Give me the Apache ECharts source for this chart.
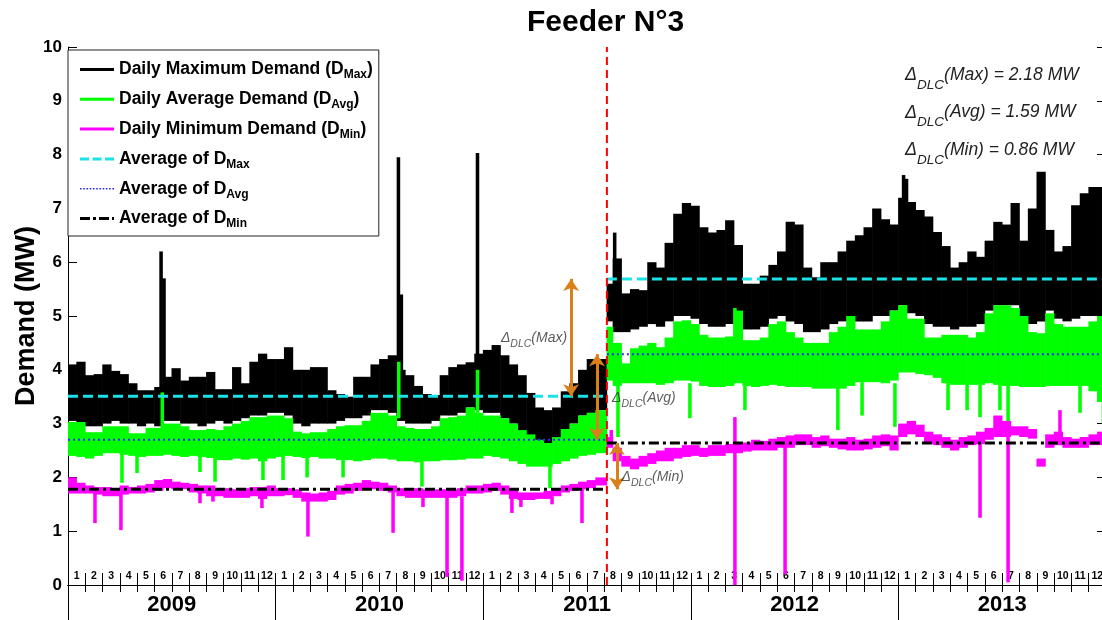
<!DOCTYPE html>
<html><head><meta charset="utf-8">
<script src="https://cdn.jsdelivr.net/npm/echarts@6/dist/echarts.min.js"></script>
<style>html,body{margin:0;padding:0;background:#fff}#c{width:1102px;height:620px}</style>
</head><body><div id="c"></div>
<script>
// ---------------- DATA ----------------
const years = ['2009', '2010', '2011', '2012', '2013'];
const monthNames = ['1', '2', '3', '4', '5', '6', '7', '8', '9', '10', '11', '12'];
const DLC = 31.15; // month index of the DLC start (early Aug 2011)

// half-month blocks, 24 per year (values in MW)
const dMaxHigh = [
  4.1, 4.15, 3.9, 3.92, 4.1, 3.98, 3.92, 3.75, 3.62, 3.62, 3.68, 3.87, 4.03, 3.8, 3.87, 3.87, 3.96, 3.64, 3.64, 4.05, 3.75, 4.15, 4.3, 4.2,
  4.2, 4.42, 4.0, 4.0, 4.05, 4.05, 3.62, 3.55, 3.5, 3.87, 3.87, 4.1, 4.2, 4.27, 4.0, 3.9, 3.7, 3.55, 3.53, 3.9, 4.05, 4.1, 4.14, 4.3,
  4.37, 4.46, 4.27, 4.1, 3.9, 3.57, 3.3, 3.25, 3.3, 3.6, 3.75, 4.0, 4.2, 4.2, 5.6, 6.07, 5.42, 5.5, 5.48, 6.0, 5.9, 6.36, 6.9, 7.1,
  7.05, 6.65, 6.55, 6.6, 6.78, 6.32, 5.6, 5.6, 5.75, 5.95, 6.2, 6.75, 6.7, 5.9, 5.72, 6.0, 6.0, 6.2, 6.4, 6.5, 6.65, 7.0, 6.8, 6.7,
  7.2, 7.12, 6.97, 6.85, 6.56, 6.3, 5.9, 6.0, 6.2, 6.1, 6.4, 6.75, 6.7, 7.1, 6.4, 7.0, 7.68, 6.6, 6.2, 6.3, 7.06, 7.28, 7.4, 7.4
];
const dMaxLow = [
  3.05, 3.0, 2.95, 2.95, 3.0, 3.05, 3.0, 3.0, 2.95, 3.0, 2.95, 3.05, 3.05, 3.0, 3.0, 2.95, 3.0, 3.05, 3.0, 3.05, 3.1, 3.15, 3.15, 3.2,
  3.2, 3.15, 3.0, 2.95, 3.0, 3.0, 3.0, 3.05, 3.1, 3.1, 3.15, 3.25, 3.25, 3.2, 3.05, 3.0, 3.0, 3.0, 3.05, 3.15, 3.15, 3.2, 3.3, 3.25,
  3.2, 3.2, 3.1, 3.0, 2.85, 2.75, 2.6, 2.56, 2.7, 2.9, 3.0, 3.15, 3.2, 3.25, 4.9, 4.7, 4.7, 4.75, 4.8, 4.85, 4.8, 4.9, 5.0, 5.0,
  4.95, 4.85, 4.8, 4.8, 4.85, 4.9, 4.75, 4.75, 4.8, 4.95, 5.0, 4.9, 4.85, 4.7, 4.7, 4.75, 4.85, 4.9, 5.0, 4.9, 4.9, 5.0, 5.0, 5.1,
  5.2, 5.05, 5.0, 4.85, 4.8, 4.8, 4.75, 4.8, 4.8, 4.85, 5.1, 5.2, 5.2, 5.2, 5.0, 4.85, 4.9, 5.1, 4.95, 4.9, 4.95, 5.0, 5.0, 5.0
];
const dAvgHigh = [
  3.03, 3.03, 2.84, 2.84, 2.95, 2.95, 2.95, 2.82, 2.82, 2.92, 2.92, 3.0, 3.0, 2.95, 2.88, 2.88, 2.9, 2.88, 2.95, 3.0, 3.05, 3.12, 3.12, 3.15,
  3.15, 3.1, 2.85, 2.82, 2.84, 2.84, 2.9, 2.95, 2.97, 2.97, 3.05, 3.2, 3.2, 3.15, 2.95, 2.92, 2.9, 2.9, 2.95, 3.1, 3.12, 3.15, 3.3, 3.2,
  3.15, 3.15, 3.1, 3.0, 2.88, 2.8, 2.7, 2.64, 2.75, 2.9, 3.0, 3.15, 3.2, 3.25, 4.8, 4.5, 4.12, 4.4, 4.45, 4.5, 4.42, 4.6, 4.9, 4.92,
  4.85, 4.65, 4.6, 4.6, 4.62, 5.1, 4.55, 4.55, 4.6, 4.85, 4.9, 4.7, 4.6, 4.5, 4.5, 4.5, 4.7, 4.8, 5.0, 4.75, 4.75, 4.75, 4.9, 5.1,
  5.2, 4.95, 4.95, 4.6, 4.6, 4.65, 4.65, 4.65, 4.6, 4.7, 5.05, 5.2, 5.2, 5.15, 5.0, 4.7, 4.68, 5.05, 4.85, 4.8, 4.8, 4.8, 4.9, 5.0
];
const dAvgLow = [
  2.4, 2.38, 2.35, 2.4, 2.45, 2.45, 2.42, 2.4, 2.38, 2.4, 2.4, 2.42, 2.4, 2.38, 2.4, 2.38, 2.36, 2.32, 2.32, 2.35, 2.33, 2.35, 2.3, 2.35,
  2.38, 2.4, 2.38, 2.36, 2.38, 2.35, 2.35, 2.32, 2.32, 2.3, 2.32, 2.35, 2.35, 2.33, 2.3, 2.3, 2.28, 2.3, 2.3, 2.32, 2.32, 2.33, 2.35, 2.35,
  2.4, 2.38, 2.35, 2.3, 2.25, 2.2, 2.2, 2.2, 2.25, 2.3, 2.35, 2.4, 2.42, 2.45, 3.8, 3.7, 3.75, 3.75, 3.75, 3.75, 3.72, 3.75, 3.8, 3.8,
  3.78, 3.7, 3.68, 3.68, 3.7, 3.75, 3.7, 3.68, 3.7, 3.72, 3.7, 3.68, 3.68, 3.68, 3.65, 3.65, 3.65, 3.65, 3.7, 3.77, 3.77, 3.77, 3.75, 3.8,
  3.95, 3.95, 3.92, 3.9, 3.85, 3.75, 3.72, 3.72, 3.72, 3.72, 3.75, 3.72, 3.7, 3.7, 3.68, 3.68, 3.68, 3.7, 3.7, 3.7, 3.7, 3.7, 3.6, 3.4
];
const dMinHigh = [
  2.0, 1.9, 1.85, 1.82, 1.82, 1.8, 1.85, 1.82, 1.85, 1.88, 1.95, 1.97, 1.92, 1.9, 1.88, 1.85, 1.85, 1.8, 1.8, 1.78, 1.8, 1.82, 1.82, 1.85,
  1.8, 1.8, 1.78, 1.72, 1.7, 1.72, 1.75, 1.85, 1.88, 1.9, 1.95, 1.92, 1.9, 1.85, 1.8, 1.78, 1.8, 1.78, 1.78, 1.78, 1.78, 1.8, 1.85, 1.85,
  1.88, 1.9, 1.85, 1.78, 1.72, 1.72, 1.72, 1.75, 1.8, 1.85, 1.88, 1.92, 1.95, 2.0, 2.75, 2.55, 2.4, 2.35, 2.4, 2.45, 2.5, 2.55, 2.55, 2.6,
  2.6, 2.55, 2.6, 2.6, 2.62, 2.65, 2.65, 2.7, 2.68, 2.72, 2.75, 2.78, 2.8, 2.8, 2.75, 2.78, 2.72, 2.72, 2.75, 2.7, 2.72, 2.78, 2.8, 2.78,
  3.0, 3.05, 2.98, 2.85, 2.8, 2.75, 2.7, 2.75, 2.78, 2.85, 2.92, 3.15, 3.05, 2.95, 2.95, 2.9, 2.35, 2.8, 2.85, 2.75, 2.72, 2.75, 2.8, 2.85
];
const dMinLow = [
  1.7, 1.7, 1.7, 1.68, 1.65, 1.65, 1.68, 1.7, 1.7, 1.72, 1.75, 1.8, 1.78, 1.78, 1.72, 1.7, 1.65, 1.65, 1.62, 1.62, 1.62, 1.65, 1.6, 1.65,
  1.65, 1.67, 1.62, 1.55, 1.55, 1.55, 1.58, 1.68, 1.7, 1.75, 1.8, 1.78, 1.75, 1.72, 1.65, 1.62, 1.62, 1.62, 1.62, 1.62, 1.62, 1.65, 1.7, 1.7,
  1.72, 1.75, 1.68, 1.6, 1.58, 1.58, 1.6, 1.6, 1.65, 1.72, 1.75, 1.78, 1.8, 1.85, 2.55, 2.3, 2.2, 2.15, 2.2, 2.25, 2.3, 2.3, 2.35, 2.38,
  2.4, 2.38, 2.4, 2.4, 2.45, 2.45, 2.48, 2.5, 2.5, 2.5, 2.55, 2.55, 2.6, 2.6, 2.55, 2.58, 2.55, 2.52, 2.5, 2.5, 2.52, 2.55, 2.58, 2.5,
  2.75, 2.8, 2.75, 2.62, 2.6, 2.55, 2.5, 2.55, 2.6, 2.62, 2.7, 2.75, 2.75, 2.78, 2.75, 2.72, 2.2, 2.55, 2.6, 2.55, 2.55, 2.55, 2.6, 2.6
];
// single-day excursions: [month index, from, to]
const dMaxSpikes = [[5.38, 3.6, 6.2], [5.55, 3.6, 5.7], [19.1, 3.9, 7.95], [19.27, 3.9, 5.4], [23.67, 4.1, 8.03], [31.6, 5.0, 6.55], [48.3, 7.0, 7.62], [48.47, 7.0, 7.55]];
const dAvgSpikes = [
  [5.45, 2.9, 3.58], [19.12, 3.1, 4.15], [23.67, 3.2, 4.0], [38.55, 4.5, 5.15],
  [3.12, 1.9, 2.45], [3.99, 2.08, 2.45], [7.63, 2.1, 2.4], [8.5, 1.92, 2.4], [11.27, 1.95, 2.35], [12.43, 1.95, 2.4],
  [13.82, 2.0, 2.38], [15.9, 2.0, 2.35], [20.46, 1.83, 2.3], [27.86, 1.8, 2.3], [31.79, 2.75, 3.8], [35.95, 3.1, 3.75],
  [39.13, 3.25, 3.7], [44.5, 2.88, 3.7], [45.9, 3.15, 3.77], [47.8, 2.94, 3.75], [50.87, 3.25, 3.85], [51.97, 3.25, 3.72],
  [52.72, 3.12, 3.72], [53.87, 3.25, 3.72], [54.34, 2.88, 3.7], [58.5, 3.2, 3.7], [59.85, 3.0, 3.6]
];
const dMinSpikes = [
  [1.56, 1.15, 1.75], [3.06, 1.02, 1.7], [7.63, 1.52, 1.75], [8.38, 1.55, 1.7], [11.21, 1.43, 1.65], [13.87, 0.9, 1.6],
  [18.79, 0.97, 1.75], [20.52, 1.45, 1.65], [21.91, 0.15, 1.65], [22.77, 0.08, 1.65], [25.66, 1.34, 1.65], [26.18, 1.45, 1.6],
  [27.98, 1.5, 1.65], [29.71, 1.15, 1.8], [31.4, 2.6, 2.88], [38.55, 0.0, 3.12], [41.45, 0.2, 2.6], [52.72, 1.25, 2.7],
  [54.34, 0.05, 2.8], [57.34, 2.6, 3.25]
];
// period averages [before DLC, after DLC]
const avgOfMax = [3.51, 5.69];
const avgOfAvg = [2.70, 4.29];
const avgOfMin = [1.78, 2.64];
// delta arrows [month index, from, to]
const deltaArrows = [[29.08, 3.51, 5.69], [30.58, 2.70, 4.29], [31.73, 1.78, 2.64]];
const deltaNames = ['Max', 'Avg', 'Min'];
const deltaNoteAt = [[28.85, 4.59], [31.45, 3.48], [32.0, 2.0]];
const deltaValues = ['2.18', '1.59', '0.86'];

// ---------------- CHART ----------------
const FONT = "'Liberation Sans', Arial, sans-serif";
const months = [];
years.forEach(() => monthNames.forEach(m => months.push(m)));

function blocks(lo, hi, spikes) {
  const out = [];
  for (let i = 0; i < hi.length; i++) {
    let s = i * 0.5, e = s + 0.5;
    if (e <= DLC && e + 0.5 > DLC) e = DLC;
    if (s < DLC && e > DLC) s = DLC;
    out.push([s, e, lo[i], hi[i]]);
  }
  spikes.forEach(p => out.push([p[0] - 0.085, p[0] + 0.085, p[1], p[2]]));
  return out;
}
function bandSeries(name, color, lo, hi, spikes) {
  return {
    name, type: 'custom', xAxisIndex: 0, yAxisIndex: 0, clip: true,
    itemStyle: { color },
    encode: { x: [0, 1], y: [2, 3] },
    data: blocks(lo, hi, spikes),
    renderItem: function (params, api) {
      const a = api.coord([api.value(0), api.value(3)]);
      const b = api.coord([api.value(1), api.value(2)]);
      return { type: 'rect', shape: { x: a[0] - 0.3, y: a[1], width: b[0] - a[0] + 0.6, height: b[1] - a[1] }, style: { fill: color } };
    }
  };
}
function avgLine(pair) {
  return [[0, pair[0]], [DLC, pair[0]], [DLC, '-'], [DLC, pair[1]], [60, pair[1]]];
}
const N = {
  max: 'Daily Maximum Demand (DMax)', avg: 'Daily Average Demand (DAvg)', min: 'Daily Minimum Demand (DMin)',
  aMax: 'Average of DMax', aAvg: 'Average of DAvg', aMin: 'Average of DMin'
};
const legendText = {};
legendText[N.max] = '{a|Daily Maximum Demand (D}{b|Max}{a|)}';
legendText[N.avg] = '{a|Daily Average Demand (D}{b|Avg}{a|)}';
legendText[N.min] = '{a|Daily Minimum Demand (D}{b|Min}{a|)}';
legendText[N.aMax] = '{a|Average of D}{b|Max}';
legendText[N.aAvg] = '{a|Average of D}{b|Avg}';
legendText[N.aMin] = '{a|Average of D}{b|Min}';

// legend icon shapes (style only)
const ICON_W = 34;
const iconSolid = 'path://M0 0H' + ICON_W + 'V3H0Z';
const iconDashed = 'path://M0 0H9V3H0Z M12.5 0H21.5V3H12.5Z M25 0H34V3H25Z';
let dots = 'path://';
for (let x = 0; x <= ICON_W - 1.6; x += 3.2) dots += 'M' + x.toFixed(2) + ' 0H' + (x + 1.6).toFixed(2) + 'V1.6H' + x.toFixed(2) + 'Z ';
const iconDotted = dots.trim();
const iconDashDot = 'path://M0 0H10V3H0Z M13 0H16V3H13Z M19 0H29V3H19Z M32 0H34V3H32Z';

const noteRich = {
  d: { fontFamily: FONT, fontStyle: 'italic', fontSize: 14, color: '#333' },
  s: { fontFamily: FONT, fontStyle: 'italic', fontSize: 10.5, color: '#333', padding: [12, 0, 0, 0], lineHeight: 12 },
  t: { fontFamily: FONT, fontStyle: 'italic', fontSize: 14, color: '#333', lineHeight: 16 }
};
const bigRich = {
  d: { fontFamily: FONT, fontStyle: 'italic', fontSize: 18, fill: '#222', lineHeight: 22 },
  s: { fontFamily: FONT, fontStyle: 'italic', fontSize: 13.5, fill: '#222', padding: [20, 0, 0, 0], lineHeight: 14 },
  t: { fontFamily: FONT, fontStyle: 'italic', fontSize: 17.5, fill: '#222', lineHeight: 34 }
};

const option = {
  animation: false,
  backgroundColor: '#fff',
  title: { text: 'Feeder N°3', left: 522, top: 3, textStyle: { fontFamily: FONT, fontWeight: 'bold', fontSize: 30, color: '#000' } },
  grid: { left: 68, top: 47, width: 1038, height: 538, containLabel: false, outerBoundsMode: 'none' },
  legend: {
    orient: 'vertical', left: 68, top: 50, padding: [8, 6, 6, 12], itemGap: 6.8,
    itemWidth: ICON_W, itemHeight: 14, backgroundColor: '#fff', borderColor: '#222', borderWidth: 1,
    data: [
      { name: N.max, icon: iconSolid, itemStyle: { color: '#000' } },
      { name: N.avg, icon: iconSolid, itemStyle: { color: '#00ff00' } },
      { name: N.min, icon: iconSolid, itemStyle: { color: '#ff00ff' } },
      { name: N.aMax, icon: iconDashed, itemStyle: { color: '#19e3e8' } },
      { name: N.aAvg, icon: iconDotted, itemStyle: { color: '#2a2aff' } },
      { name: N.aMin, icon: iconDashDot, itemStyle: { color: '#000' } }
    ],
    formatter: name => legendText[name],
    textStyle: {
      rich: {
        a: { fontFamily: FONT, fontWeight: 'bold', fontSize: 17.5, color: '#000', lineHeight: 24 },
        b: { fontFamily: FONT, fontWeight: 'bold', fontSize: 12, color: '#000', padding: [11, 0, 0, 0], lineHeight: 14 }
      }
    },
    selectedMode: false
  },
  xAxis: [
    { type: 'value', position: 'top', min: 0, max: 60, interval: 1,
      axisLine: { show: true, lineStyle: { color: '#000', width: 1 } },
      axisTick: { show: true, inside: true, length: 7, lineStyle: { color: '#000' } },
      axisLabel: { show: false }, splitLine: { show: false } },
    { type: 'category', position: 'bottom', data: months, gridIndex: 0,
      axisLine: { show: true, lineStyle: { color: '#000', width: 1 } },
      axisTick: { show: true, inside: true, length: 12, interval: 0, lineStyle: { color: '#000' } },
      axisLabel: { inside: true, interval: 0, margin: 3, fontFamily: FONT, fontWeight: 'bold', fontSize: 10.5, color: '#000' },
      splitLine: { show: false } },
    { type: 'category', position: 'bottom', data: years, gridIndex: 0,
      axisLine: { show: true, lineStyle: { color: '#000', width: 1 } },
      axisTick: { show: true, length: 36, interval: 0, lineStyle: { color: '#000' } },
      axisLabel: { interval: 0, margin: 9, fontFamily: FONT, fontWeight: 'bold', fontSize: 22, color: '#000' },
      splitLine: { show: false } }
  ],
  yAxis: [
    { type: 'value', position: 'left', min: 0, max: 10, interval: 1,
      name: 'Demand (MW)', nameLocation: 'middle', nameGap: 28, nameMoveOverlap: false,
      nameTextStyle: { fontFamily: FONT, fontWeight: 'bold', fontSize: 27, color: '#000' },
      axisLine: { show: true, lineStyle: { color: '#000', width: 1 } },
      axisTick: { show: true, inside: true, length: 9, lineStyle: { color: '#000' } },
      axisLabel: { margin: 6, fontFamily: FONT, fontWeight: 'bold', fontSize: 17, color: '#000' },
      splitLine: { show: false } },
    { type: 'value', position: 'right', min: 0, max: 10, interval: 1,
      axisLine: { show: true, lineStyle: { color: '#000', width: 1 } },
      axisTick: { show: true, inside: true, length: 9, lineStyle: { color: '#000' } },
      axisLabel: { show: false }, splitLine: { show: false } }
  ],
  series: [
    bandSeries(N.max, '#000000', dMaxLow, dMaxHigh, dMaxSpikes),
    bandSeries(N.avg, '#00ff00', dAvgLow, dAvgHigh, dAvgSpikes),
    bandSeries(N.min, '#ff00ff', dMinLow, dMinHigh, dMinSpikes),
    { name: N.aMax, type: 'line', xAxisIndex: 0, yAxisIndex: 0, symbol: 'none', data: avgLine(avgOfMax),
      itemStyle: { color: '#19e3e8' }, lineStyle: { color: '#19e3e8', width: 3, type: [10, 5] } },
    { name: N.aAvg, type: 'line', xAxisIndex: 0, yAxisIndex: 0, symbol: 'none', data: avgLine(avgOfAvg),
      itemStyle: { color: '#2a2aff' }, lineStyle: { color: '#2a2aff', width: 2, type: [2, 3] } },
    { name: N.aMin, type: 'line', xAxisIndex: 0, yAxisIndex: 0, symbol: 'none', data: avgLine(avgOfMin),
      itemStyle: { color: '#000' }, lineStyle: { color: '#000', width: 3, type: [10, 4, 3, 4] } },
    { name: 'DLC', type: 'line', xAxisIndex: 0, yAxisIndex: 0, symbol: 'none', data: [[DLC, 0], [DLC, 10]],
      lineStyle: { color: '#ff0000', width: 2, type: [8, 5] }, z: 5,
      markLine: {
        silent: true, symbol: ['arrow', 'arrow'], symbolSize: 12, animation: false,
        label: { show: false },
        lineStyle: { color: '#d9801a', width: 3, type: 'solid' },
        itemStyle: { color: '#d9801a' },
        data: deltaArrows.map(a => [{ coord: [a[0], a[1]] }, { coord: [a[0], a[2]] }])
      } },
    { name: 'notes', type: 'scatter', xAxisIndex: 0, yAxisIndex: 0, symbolSize: 0, z: 6,
      data: deltaNoteAt.map((p, i) => ({
        value: p,
        label: { show: true, position: i === 0 ? 'left' : 'right', distance: 0,
          formatter: '{d|Δ}{s|DLC}{t|(' + deltaNames[i] + ')}', rich: noteRich }
      })) }
  ],
  graphic: deltaNames.map((n, i) => ({
    type: 'text', left: 905, top: 58 + i * 37.5, z: 10,
    style: { text: '{d|Δ}{s|DLC}{t|(' + n + ') = ' + deltaValues[i] + ' MW}', rich: bigRich, fill: '#222' }
  }))
};
const chart = echarts.init(document.getElementById('c'), null, { renderer: 'canvas' });
chart.setOption(option);
</script></body></html>
